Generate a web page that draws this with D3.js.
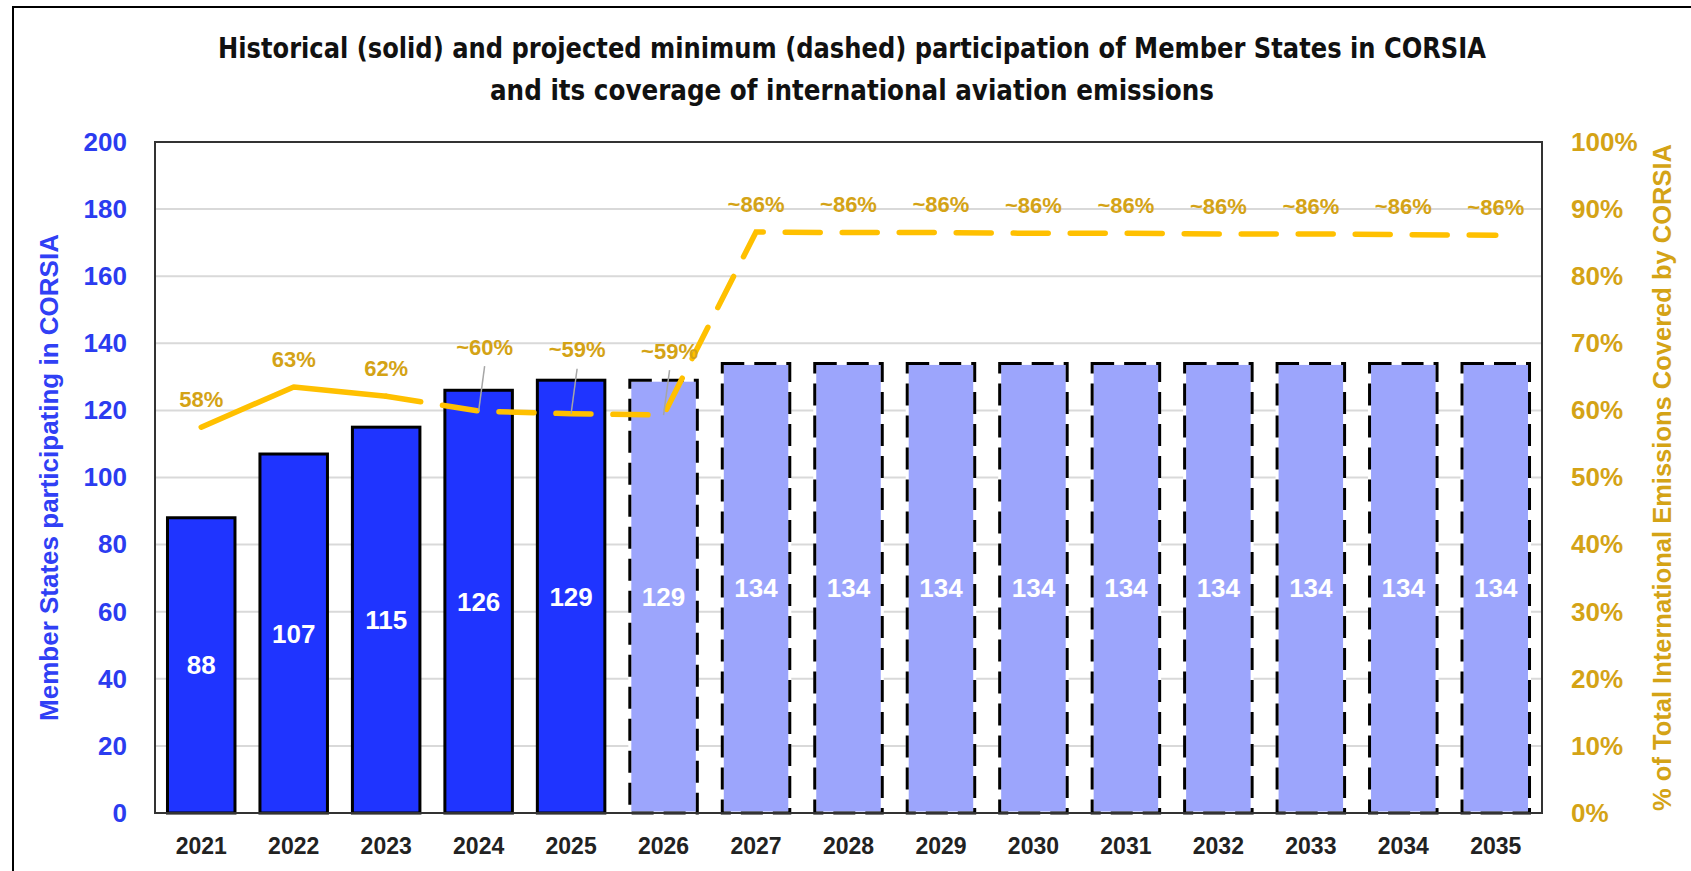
<!DOCTYPE html>
<html>
<head>
<meta charset="utf-8">
<script src="https://d3js.org/d3.v7.min.js"></script>
<style>
  body { margin: 0; background: #fff; }
  svg text { font-family: "Liberation Sans", Arial, sans-serif; }
  .title { font-family: "Liberation Sans Narrow", "DejaVu Sans Condensed", "Liberation Sans", sans-serif; font-weight: bold; font-size: 28px; fill: #111; }
</style>
</head>
<body>
<script>
// chart data
var years = ["2021","2022","2023","2024","2025","2026","2027","2028","2029","2030","2031","2032","2033","2034","2035"];
var members = [88, 107, 115, 126, 129, 129, 134, 134, 134, 134, 134, 134, 134, 134, 134];
var phase = ["hist","hist","hist","hist","hist","proj","proj","proj","proj","proj","proj","proj","proj","proj","proj"];
var coverage = [57.5, 63.5, 62.1, 59.9, 59.5, 59.3, 86.6, 86.5, 86.5, 86.4, 86.4, 86.3, 86.3, 86.2, 86.1];
var coverageLabels = ["58%","63%","62%","~60%","~59%","~59%","~86%","~86%","~86%","~86%","~86%","~86%","~86%","~86%","~86%"];
var leaderYears = ["2024","2025","2026"];
var lastSolidYear = "2023";
var leftTicks = [0, 20, 40, 60, 80, 100, 120, 140, 160, 180, 200];
var rightTicks = [0, 10, 20, 30, 40, 50, 60, 70, 80, 90, 100];

var W = 1691, H = 871;
var pL = 155, pR = 1542, pT = 142, pB = 813;

var blue = "#1f34ff", lightBlue = "#9ca5fc", axisBlue = "#2b3cf0";
var gold = "#ffc000", goldText = "#d4a316";

var svg = d3.select("body").append("svg")
  .attr("width", W).attr("height", H);

// outer frame
svg.append("path")
  .attr("d", "M13," + H + "V7H" + W)
  .attr("fill", "none").attr("stroke", "#000").attr("stroke-width", 2);

// title
var title = [["Historical (solid) and projected minimum (dashed) participation of Member States in CORSIA", 1268, 58],
             ["and its coverage of international aviation emissions", 724, 100]];
svg.selectAll("text.title").data(title).enter().append("text")
  .attr("class", "title")
  .attr("x", 852).attr("y", function(d) { return d[2]; })
  .attr("text-anchor", "middle")
  .attr("textLength", function(d) { return d[1]; })
  .attr("lengthAdjust", "spacingAndGlyphs")
  .text(function(d) { return d[0]; });

var x = d3.scaleBand().domain(years).range([pL, pR]).paddingInner(0.27).paddingOuter(0.135);
var yL = d3.scaleLinear().domain([0, 200]).range([pB, pT]);
var yR = d3.scaleLinear().domain([0, 100]).range([pB, pT]);

// gridlines
svg.append("g").selectAll("line").data(leftTicks.slice(1, -1)).enter().append("line")
  .attr("x1", pL).attr("x2", pR)
  .attr("y1", function(d) { return yL(d); }).attr("y2", function(d) { return yL(d); })
  .attr("stroke", "#d9d9d9").attr("stroke-width", 2);

// bars
var bars = svg.append("g").selectAll("g").data(years).enter().append("g");
bars.each(function(yr, i) {
  var g = d3.select(this);
  var bx = x(yr), bw = x.bandwidth(), by = yL(members[i]), bh = yL(0) - yL(members[i]);
  if (phase[i] === "hist") {
    g.append("rect").attr("x", bx).attr("y", by).attr("width", bw).attr("height", bh)
      .attr("fill", blue).attr("stroke", "#000").attr("stroke-width", 3);
  } else {
    g.append("rect").attr("x", bx).attr("y", by).attr("width", bw).attr("height", bh)
      .attr("fill", lightBlue).attr("stroke", "#fff").attr("stroke-width", 3);
    g.append("rect").attr("x", bx).attr("y", by).attr("width", bw).attr("height", bh)
      .attr("fill", "none").attr("stroke", "#000").attr("stroke-width", 3)
      .attr("stroke-dasharray", "22 10");
  }
  g.append("text")
    .attr("x", bx + bw / 2).attr("y", (by + yL(0)) / 2).attr("dy", "0.35em")
    .attr("text-anchor", "middle").attr("fill", "#fff")
    .style("font-size", "26px").style("font-weight", "bold")
    .text(members[i]);
});

// plot frame
svg.append("rect").attr("x", pL).attr("y", pT).attr("width", pR - pL).attr("height", pB - pT)
  .attr("fill", "none").attr("stroke", "#333").attr("stroke-width", 2);

// axes
var axL = svg.append("g").attr("transform", "translate(" + pL + ",0)")
  .call(d3.axisLeft(yL).tickValues(leftTicks).tickSize(0).tickPadding(28));
axL.select(".domain").remove();
axL.selectAll("text").attr("fill", axisBlue).style("font-size", "26px").style("font-weight", "bold");

var axR = svg.append("g").attr("transform", "translate(" + pR + ",0)")
  .call(d3.axisRight(yR).tickValues(rightTicks).tickSize(0).tickPadding(29).tickFormat(function(d) { return d + "%"; }));
axR.select(".domain").remove();
axR.selectAll("text").attr("fill", goldText).style("font-size", "26px").style("font-weight", "bold");

var axB = svg.append("g").attr("transform", "translate(0," + pB + ")")
  .call(d3.axisBottom(x).tickSize(0).tickPadding(25));
axB.select(".domain").remove();
axB.selectAll("text").attr("fill", "#222").style("font-size", "23px").style("font-weight", "bold");

// axis titles
svg.append("text")
  .attr("transform", "translate(49," + (pT + pB) / 2 + ") rotate(-90)")
  .attr("dy", "0.35em").attr("text-anchor", "middle")
  .attr("fill", "#3040f5").style("font-size", "26px").style("font-weight", "bold")
  .text("Member States participating in CORSIA");

svg.append("text")
  .attr("transform", "translate(1662," + (pT + pB) / 2 + ") rotate(-90)")
  .attr("dy", "0.35em").attr("text-anchor", "middle")
  .attr("fill", goldText).style("font-size", "25.5px").style("font-weight", "bold")
  .text("% of Total International Emissions Covered by CORSIA");

// coverage line
var pts = years.map(function(yr, i) { return [x(yr) + x.bandwidth() / 2, yR(coverage[i])]; });
var cut = years.indexOf(lastSolidYear);
var line = d3.line();
svg.append("path").attr("d", line(pts.slice(0, cut + 1)))
  .attr("fill", "none").attr("stroke", gold).attr("stroke-width", 5.5)
  .attr("stroke-linecap", "round").attr("stroke-linejoin", "round");
svg.append("path").attr("d", line(pts.slice(cut)))
  .attr("fill", "none").attr("stroke", gold).attr("stroke-width", 5.5)
  .attr("stroke-linecap", "round").attr("stroke-dasharray", "35 22");

// coverage labels with leader lines
var labs = svg.append("g");
years.forEach(function(yr, i) {
  var px = pts[i][0], py = pts[i][1];
  var lead = leaderYears.indexOf(yr) >= 0;
  var lx = lead ? px + 6 : px;
  var ly = lead ? py - 64 : py - 28;
  if (lead) {
    labs.append("line").attr("x1", lx).attr("y1", ly + 19).attr("x2", px).attr("y2", py)
      .attr("stroke", "#a6a6a6").attr("stroke-width", 1.5);
  }
  labs.append("text")
    .attr("x", lx).attr("y", ly).attr("dy", "0.35em")
    .attr("text-anchor", "middle").attr("fill", goldText)
    .style("font-size", "22px").style("font-weight", "bold")
    .text(coverageLabels[i]);
});
</script>
</body>
</html>
